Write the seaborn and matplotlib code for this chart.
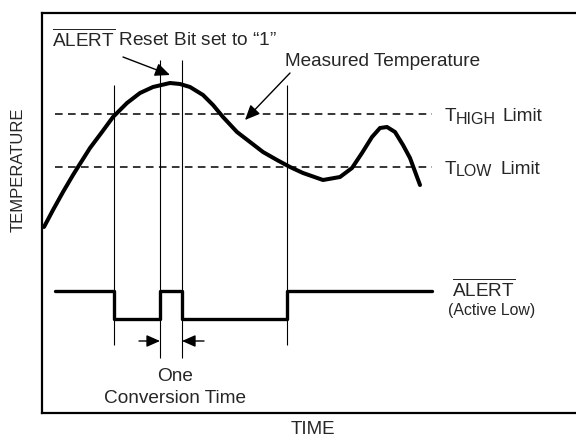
import numpy as np
import pandas as pd
import seaborn as sns
import matplotlib.pyplot as plt

# schematic units (time 0..534, temperature 0..400)
time_pts = [2, 11, 21, 31, 36, 48, 60, 71, 85, 98, 111, 128, 138, 148, 161, 171, 181,
            195, 208, 221, 235, 248, 261, 281, 298, 310, 320, 330, 338, 345, 353, 361, 368, 378]
temp_pts = [186, 203, 221, 238, 246, 265, 281, 296, 310, 320, 326, 330, 329, 326, 318, 308, 296,
            281, 271, 261, 253, 246, 240, 233, 236, 245, 260, 276, 285, 286, 281, 268, 255, 228]

t_high = 299
t_low = 246
limit_span = [13, 390]

alert_t = [13, 72, 118, 140, 245, 390]
alert_level = [122, 94, 122, 94, 122, 122]

marker_t = [72, 118, 140, 245]
marker_bottom = [68, 55, 55, 68]
marker_top = [328, 353, 353, 328]

sns.set_style("white")
plt.rcParams['font.family'] = ['Liberation Sans', 'DejaVu Sans']
plt.rcParams['mathtext.fontset'] = 'custom'
plt.rcParams['mathtext.rm'] = 'Liberation Sans'

fig = plt.figure(figsize=(5.76, 4.34), dpi=100)
ax = fig.add_axes([42/576, 21/434, 534/576, 400/434])

curve = pd.DataFrame({'time': time_pts, 'temp': temp_pts})
sns.lineplot(data=curve, x='time', y='temp', sort=False, estimator=None,
             color='black', linewidth=2.9, solid_joinstyle='round', ax=ax)

alert = pd.DataFrame({'time': alert_t, 'level': alert_level})
sns.lineplot(data=alert, x='time', y='level', sort=False, estimator=None,
             color='black', linewidth=2.4, drawstyle='steps-post', ax=ax)

ax.hlines([t_high, t_low], limit_span[0], limit_span[1], colors='black',
          linewidth=1.1, linestyles=(0, (5, 3.5)))
ax.vlines(marker_t, marker_bottom, marker_top, colors='black', linewidth=0.8)

fs = 13.7
arrow = dict(arrowstyle='-|>,head_length=0.45,head_width=0.2', color='black',
             lw=1.0, mutation_scale=20, shrinkA=0, shrinkB=0)

ax.text(10, 366, r'$\overline{\mathrm{ALERT}}$ Reset Bit set to “1”', fontsize=fs, va='baseline')
ax.annotate('', xy=(128, 338), xytext=(81, 356), arrowprops=arrow)
ax.text(243, 347, 'Measured Temperature', fontsize=fs, va='baseline')
ax.annotate('', xy=(203, 293), xytext=(248, 340), arrowprops=arrow)

ax.text(403, 292, 'T', fontsize=fs, va='baseline')
ax.text(414, 289.5, 'HIGH', fontsize=11.5, va='baseline')
ax.text(460, 292, 'Limit', fontsize=fs, va='baseline')
ax.text(403, 239, 'T', fontsize=fs, va='baseline')
ax.text(414, 236.5, 'LOW', fontsize=11.5, va='baseline')
ax.text(458, 239, 'Limit', fontsize=fs, va='baseline')

ax.text(410, 116, r'$\overline{\mathrm{ALERT}}$', fontsize=fs, va='baseline')
ax.text(406, 98, '(Active Low)', fontsize=11.4, va='baseline')

for x0, x1 in [(97, 118), (162, 140)]:
    ax.annotate('', xy=(x1, 72), xytext=(x0, 72),
                arrowprops=dict(arrow, mutation_scale=18))
ax.text(133, 32, 'One', fontsize=fs, ha='center', va='baseline')
ax.text(133, 10, 'Conversion Time', fontsize=fs, ha='center', va='baseline')

ax.text(-24, 243, 'TEMPERATURE', fontsize=12, rotation=90, ha='center', va='center', clip_on=False)
ax.text(271, -16, 'TIME', fontsize=13.5, ha='center', va='center', clip_on=False)

ax.set_xlim(0, 534)
ax.set_ylim(0, 400)
ax.set_xticks([])
ax.set_yticks([])
ax.set_xlabel('')
ax.set_ylabel('')
for side in ['top', 'left', 'bottom']:
    ax.spines[side].set_color('black')
    ax.spines[side].set_linewidth(1.6)
ax.spines['right'].set_visible(False)

fig.savefig('out.png', dpi=100)
